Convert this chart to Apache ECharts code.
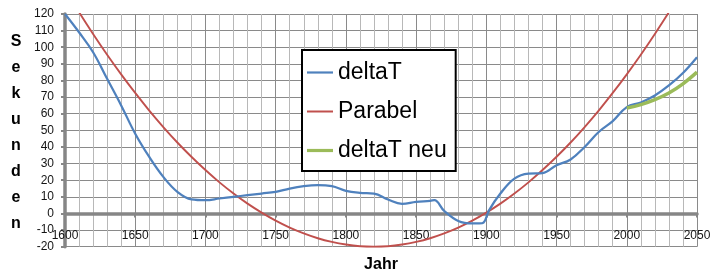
<!DOCTYPE html>
<html>
<head>
<meta charset="utf-8">
<script src="https://cdn.jsdelivr.net/npm/echarts@6/dist/echarts.min.js"></script>
<style>
html,body{margin:0;padding:0;background:#fff;}
#chart{width:719px;height:279px;}
</style>
</head>
<body>
<div id="chart"></div>
<script>
// ---- data ----
var deltaTYears  = [1600,1610,1620,1630,1640,1650,1660,1670,1680,1690,1700,1710,1720,1730,1740,1750,1760,1770,1780,1790,1800,1810,1820,1830,1840,1850,1860,1863,1870,1880,1890,1895,1898,1902,1910,1920,1930,1940,1950,1960,1970,1980,1990,2000,2010,2020,2030,2040,2050];
var deltaTValues = [120,109,97,81,65,48,34,22,13,8.5,8,9,10,11,12,13,15,16.4,17,16.4,13.6,12.4,12,8.4,5.8,7,7.6,8,1.5,-4.5,-6,-6,-5.5,2,12,21,24,24.3,29,32.5,40,49,55.5,64,66.8,71,77,84.5,94];

var parabelYears  = [1600,1610,1620,1630,1640,1650,1660,1670,1680,1690,1700,1710,1720,1730,1740,1750,1760,1770,1780,1790,1800,1810,1820,1830,1840,1850,1860,1870,1880,1890,1900,1910,1920,1930,1940,1950,1960,1970,1980,1990,2000,2010,2020,2030,2040];
var parabelValues = [134.9,121.1,108,95.5,83.7,72.5,61.9,52,42.7,34.1,26.1,18.7,12,5.9,0.5,-4.3,-8.5,-12,-14.9,-17.1,-18.7,-19.7,-20,-19.7,-18.7,-17.1,-14.9,-12,-8.5,-4.3,0.5,5.9,12,18.7,26.1,34.1,42.7,52,61.9,72.5,83.7,95.5,108,121.1,134.9];

var neuYears  = [2000,2010,2020,2030,2040,2050];
var neuValues = [63.5,65.5,68.5,72.5,78,85];

var seriesNames = ['deltaT','Parabel','deltaT neu'];
var xTitle = 'Jahr';
var yTitle = 'Sekunden';

function pairs(xs, ys){ return xs.map(function(x,i){ return [x, ys[i]]; }); }

var chart = echarts.init(document.getElementById('chart'), null, {renderer:'canvas'});
var majorGrid = '#8a8a8a', minorGrid = '#b8b8b8', axisGray = '#868686', txt = '#141414';
chart.setOption({
  animation:false,
  backgroundColor:'#ffffff',
  grid:{left:65, right:22, top:14, bottom:32.3, containLabel:false},
  xAxis:{
    type:'value', min:1600, max:2050, interval:50,
    axisLine:{show:true, onZero:true, lineStyle:{color:axisGray, width:3.5}},
    axisTick:{show:true, length:4, lineStyle:{color:axisGray, width:2}},
    axisLabel:{color:txt, fontFamily:'Liberation Sans', fontSize:12, margin:-17, showMinLabel:true, showMaxLabel:true,
      formatter:function(v){ return String(v); }},
    splitLine:{show:true, lineStyle:{color:majorGrid, width:1}},
    minorTick:{show:false, splitNumber:5},
    minorSplitLine:{show:true, lineStyle:{color:minorGrid, width:1}}
  },
  yAxis:{
    type:'value', min:-20, max:120, interval:10,
    axisLine:{show:true, onZero:false, lineStyle:{color:axisGray, width:3.5}},
    axisTick:{show:true, length:4, lineStyle:{color:axisGray, width:2}},
    axisLabel:{color:txt, fontFamily:'Liberation Sans', fontSize:12, margin:11},
    splitLine:{show:true, lineStyle:{color:majorGrid, width:1}}
  },
  legend:{
    show:true, orient:'vertical', left:302, top:50,
    data:[
      {name:seriesNames[0], icon:'path://M0,0H26V2.2H0Z'},
      {name:seriesNames[1], icon:'path://M0,0H26V2H0Z'},
      {name:seriesNames[2], icon:'path://M0,0H26V3.2H0Z'}
    ],
    backgroundColor:'#ffffff', borderColor:'#000000', borderWidth:2,
    padding:[11,9,9,5], itemGap:16, itemWidth:26, itemHeight:14,
    textStyle:{color:'#000', fontFamily:'Liberation Sans', fontSize:23}
  },
  graphic:[
    {type:'text', x:16, y:133, style:{text:yTitle.split('').join('\n'), fill:'#000', font:'bold 16px "Liberation Sans"', lineHeight:26, textAlign:'center', textVerticalAlign:'middle'}},
    {type:'text', x:381, y:265, style:{text:xTitle, fill:'#000', font:'bold 16px "Liberation Sans"', textAlign:'center', textVerticalAlign:'middle'}}
  ],
  series:[
    {name:seriesNames[0], type:'line', data:pairs(deltaTYears, deltaTValues), smooth:0.4, symbol:'none', clip:true,
     lineStyle:{color:'#4F81BD', width:2.25}, itemStyle:{color:'#4F81BD'}, z:3},
    {name:seriesNames[1], type:'line', data:pairs(parabelYears, parabelValues), smooth:0.4, symbol:'none', clip:true,
     lineStyle:{color:'#C0504D', width:1.9}, itemStyle:{color:'#C0504D'}, z:2},
    {name:seriesNames[2], type:'line', data:pairs(neuYears, neuValues), smooth:0.4, symbol:'none', clip:true,
     lineStyle:{color:'#9BBB59', width:3.5}, itemStyle:{color:'#9BBB59'}, z:4}
  ]
});
</script>
</body>
</html>
